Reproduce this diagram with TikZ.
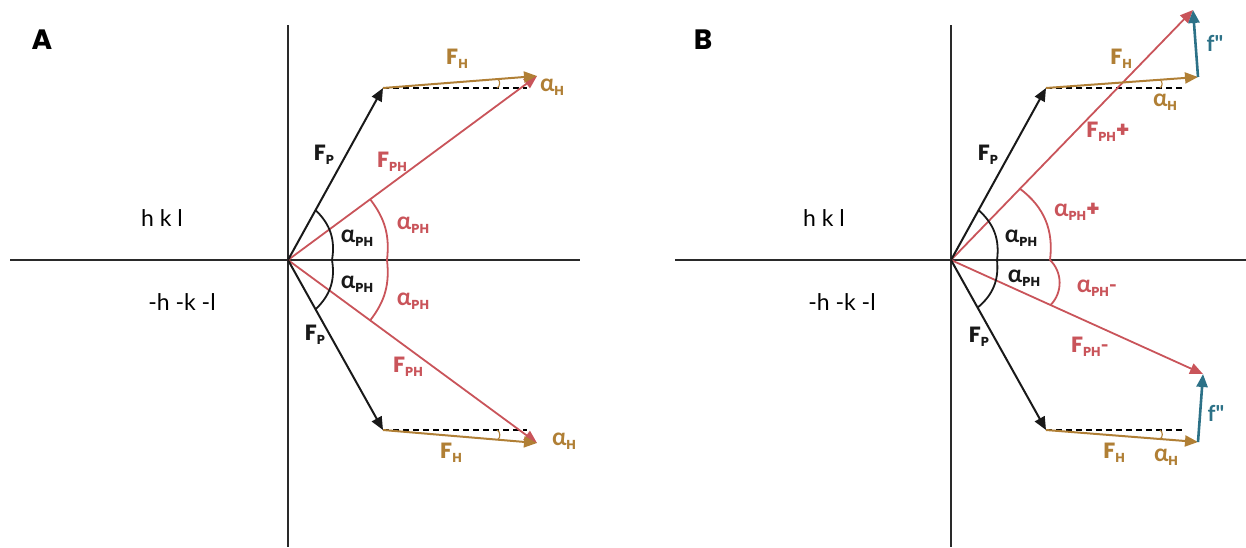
\documentclass[tikz,border=0pt]{standalone}
\usepackage{fontspec}
\setmainfont{Poppins}
\newfontfamily\grk{Lato}
\usetikzlibrary{arrows.meta,calc}
\definecolor{cred}{HTML}{C9545A}
\definecolor{cgold}{HTML}{B07F35}
\definecolor{cteal}{HTML}{2C7187}
\definecolor{caxis}{HTML}{2A2A2A}
\newcommand{\sbs}[1]{\raisebox{-0.3ex}{\fontsize{13}{13}\selectfont #1}}
\newcommand{\Fl}[1]{F\sbs{#1}}
\newcommand{\al}[1]{{\grk\bfseries\fontsize{24}{24}\selectfont α}\sbs{#1}}
\newcommand{\hy}{{\grk\bfseries -}}
\tikzset{
  axisline/.style={draw=caxis,line width=2.2pt},
  vec/.style={line width=2pt,-{Triangle[length=13pt,width=11pt]}},
  pvec/.style={vec,draw=black!90,fill=black!90},
  hvec/.style={vec,draw=cgold,fill=cgold},
  phvec/.style={vec,draw=cred,fill=cred,line width=1.8pt},
  fvec/.style={vec,draw=cteal,fill=cteal,line width=2.6pt},
  dashline/.style={draw=black,line width=1.8pt,dash pattern=on 6pt off 4pt},
  blarc/.style={draw=black!90,line width=1.8pt},
  rdarc/.style={draw=cred,line width=1.8pt},
  smarc/.style={draw=cgold,line width=1.1pt},
  lab/.style={font=\bfseries\fontsize{22}{22}\selectfont,inner sep=0pt},
  blab/.style={lab,text=black!90},
  rlab/.style={lab,text=cred},
  glab/.style={lab,text=cgold},
  tlab/.style={lab,text=cteal},
  plain/.style={font=\grk\fontsize{23}{23}\selectfont,inner sep=0pt,text=black},
  panel/.style={font=\bfseries\fontsize{28}{28}\selectfont,inner sep=0pt,text=black}
}
\begin{document}
\begin{tikzpicture}[x=1pt,y=-1pt]
\useasboundingbox (0,0) rectangle (1246,547);
% ---------- Panel A ----------
\coordinate (OA) at (288,260);
\coordinate (AvT) at (288,25); \coordinate (AvB) at (288,547);
\coordinate (AhL) at (10,260); \coordinate (AhR) at (580,260);
\coordinate (PAu) at (383,88); \coordinate (PAl) at (383,430);
\coordinate (HAu) at (537,76); \coordinate (HAl) at (537,443);
\coordinate (DAu) at (527,88); \coordinate (DAl) at (527,430);
\draw[axisline] (AvT) -- (AvB);
\draw[axisline] (AhL) -- (AhR);
\draw[dashline] (PAu) -- (DAu);
\draw[dashline] (PAl) -- (DAl);
\draw[phvec] (OA) -- (HAu);
\draw[phvec] (OA) -- (HAl);
\draw[pvec] (OA) -- (PAu);
\draw[pvec] (OA) -- (PAl);
\draw[hvec] (PAu) -- (HAu);
\draw[hvec] (PAl) -- (HAl);
\coordinate (AxB) at (332,260); \coordinate (AxR) at (387,260);
\draw[blarc] ($(OA)!0.29!(PAu)$) to[bend left=28] (AxB) to[bend left=28] ($(OA)!0.29!(PAl)$);
\draw[rdarc] ($(OA)!0.33!(HAu)$) to[bend left=22] (AxR) to[bend left=22] ($(OA)!0.33!(HAl)$);
\draw[smarc] (497,88) to[bend right=60] ($(PAu)!0.745!(HAu)$);
\draw[smarc] (497,430) to[bend left=60] ($(PAl)!0.745!(HAl)$);
\node[panel] (lA) at (42,40) {A};
\node[plain] (hklA) at (162,218) {h k l};
\node[plain] (mhklA) at (182,302) {-h -k -l};
\node[glab] (FHAu) at (457,59) {\Fl{H}};
\node[glab] (aHAu) at (552,87) {\al{H}};
\node[blab] (FPAu) at (324,155) {\Fl{P}};
\node[rlab] (FPHAu) at (392,162) {\Fl{PH}};
\node[blab] (aPHAu) at (357,238) {\al{PH}};
\node[rlab] (raPHAu) at (413,225) {\al{PH}};
\node[blab] (aPHAl) at (357,284) {\al{PH}};
\node[rlab] (raPHAl) at (413,301) {\al{PH}};
\node[blab] (FPAl) at (315,335) {\Fl{P}};
\node[rlab] (FPHAl) at (408,367) {\Fl{PH}};
\node[glab] (FHAl) at (451,453) {\Fl{H}};
\node[glab] (aHAl) at (564,441) {\al{H}};
% ---------- Panel B ----------
\coordinate (OB) at (951,260);
\coordinate (BvT) at (951,25); \coordinate (BvB) at (951,547);
\coordinate (BhL) at (675,260); \coordinate (BhR) at (1246,260);
\coordinate (PBu) at (1046,88); \coordinate (PBl) at (1046,430);
\coordinate (HBu) at (1198,77); \coordinate (HBl) at (1198,442);
\coordinate (fBu) at (1193,10); \coordinate (fBl) at (1203,374);
\coordinate (DBu) at (1183,88); \coordinate (DBl) at (1183,430);
\draw[axisline] (BvT) -- (BvB);
\draw[axisline] (BhL) -- (BhR);
\draw[dashline] (PBu) -- (DBu);
\draw[dashline] (PBl) -- (DBl);
\draw[phvec] (OB) -- (fBu);
\draw[phvec] (OB) -- (fBl);
\draw[pvec] (OB) -- (PBu);
\draw[pvec] (OB) -- (PBl);
\draw[hvec] (PBu) -- (HBu);
\draw[hvec] (PBl) -- (HBl);
\draw[fvec] (HBu) -- (fBu);
\draw[fvec] (HBl) -- (fBl);
\coordinate (BxB) at (997,260); \coordinate (BxR) at (1050,260);
\draw[blarc] ($(OB)!0.29!(PBu)$) to[bend left=28] (BxB) to[bend left=28] ($(OB)!0.28!(PBl)$);
\draw[rdarc] ($(OB)!0.285!(fBu)$) to[bend left=30] (BxR);
\draw[rdarc] (BxR) to[bend left=45] ($(OB)!0.395!(fBl)$);
\draw[smarc] (1160,88) to[bend right=60] ($(PBu)!0.75!(HBu)$);
\draw[smarc] (1160,430) to[bend left=60] ($(PBl)!0.75!(HBl)$);
\node[panel] (lB) at (703,40) {B};
\node[plain] (hklB) at (824,218) {h k l};
\node[plain] (mhklB) at (842,302) {-h -k -l};
\node[glab] (FHBu) at (1121,59) {\Fl{H}};
\node[glab] (aHBu) at (1165,102) {\al{H}};
\node[tlab] (fpBu) at (1215,43) {{\grk\bfseries f\symbol{"22}}};
\node[rlab] (FPHBu) at (1108,132) {\Fl{PH}+};
\node[blab] (FPBu) at (988,155) {\Fl{P}};
\node[rlab] (raPHBu) at (1077,212) {\al{PH}+};
\node[blab] (aPHBu) at (1021,238) {\al{PH}};
\node[blab] (aPHBl) at (1024,278) {\al{PH}};
\node[rlab] (raPHBl) at (1097,288) {\al{PH}\hy};
\node[rlab] (FPHBl) at (1090,347) {\Fl{PH}\hy};
\node[blab] (FPBl) at (979,337) {\Fl{P}};
\node[glab] (FHBl) at (1114,453) {\Fl{H}};
\node[glab] (aHBl) at (1166,457) {\al{H}};
\node[tlab] (fpBl) at (1216,413) {{\grk\bfseries f\symbol{"22}}};
\end{tikzpicture}
\end{document}
